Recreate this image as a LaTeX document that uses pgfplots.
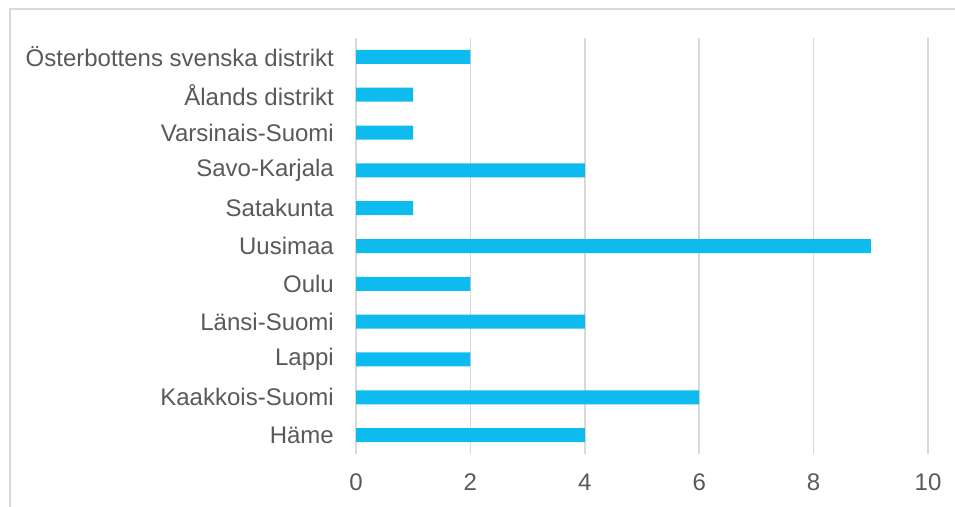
\documentclass[border=0pt]{standalone}
\usepackage{pgfplots}
\pgfplotsset{compat=1.18}
\usepackage{fontspec}
\setmainfont{Liberation Sans}
\definecolor{barc}{HTML}{0DBBEF}
\definecolor{txt}{HTML}{595959}
\definecolor{grd}{HTML}{D9D9D9}
\begin{document}
\begin{tikzpicture}
\useasboundingbox (0pt,0pt) rectangle (955pt,-506pt);
\draw[grd, line width=1.5pt] (10pt,-9pt) rectangle (975pt,-530pt);
\begin{axis}[
  at={(356pt,-454pt)}, anchor=south west,
  scale only axis, width=572pt, height=416pt,
  xmin=0, xmax=10, ymin=-0.5, ymax=10.5,
  xtick={0,2,4,6,8,10},
  ytick={0,1,2,3,4,5,6,7,8,9,10},
  yticklabels={Häme,Kaakkois-Suomi,Lappi,Länsi-Suomi,Oulu,Uusimaa,Satakunta,Savo-Karjala,Varsinais-Suomi,Ålands distrikt,Österbottens svenska distrikt},
  xmajorgrids, grid style={grd, line width=1.5pt},
  axis x line*=bottom, axis y line*=left,
  x axis line style={draw=none},
  y axis line style={grd, line width=1.5pt, -},
  xtick style={draw=none}, ytick style={draw=none},
  major tick length=0pt,
  tick label style={font=\fontsize{24}{28}\selectfont, text=txt},
  yticklabel style={inner sep=0pt, xshift=-22pt},
  xticklabel style={inner sep=0pt, yshift=-20pt},
  /pgf/number format/assume math mode=true,
  xbar, bar width=14pt,
  clip=false,
]
\addplot[fill=barc, draw=none] coordinates {
(4,0) (6,1) (2,2) (4,3) (2,4) (9,5) (1,6) (4,7) (1,8) (1,9) (2,10)};
\end{axis}
\end{tikzpicture}
\end{document}
